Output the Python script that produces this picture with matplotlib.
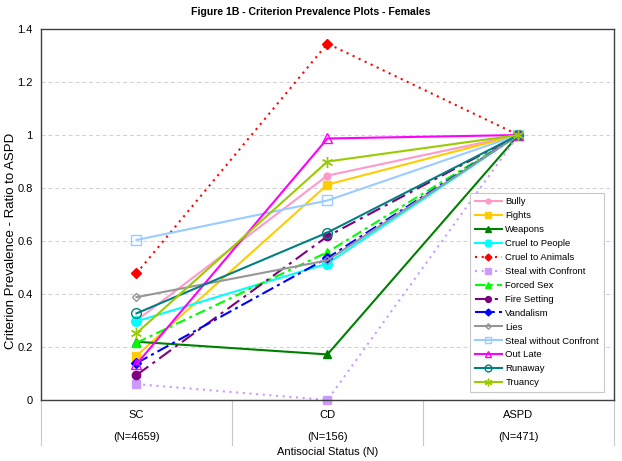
import matplotlib
matplotlib.use("Agg")
import matplotlib.pyplot as plt
import matplotlib.transforms as mtransforms

plt.rcParams['font.family'] = ['Liberation Sans', 'DejaVu Sans']

# data
groups = ["SC", "CD", "ASPD"]
group_n = ["(N=4659)", "(N=156)", "(N=471)"]
criteria = ["Bully", "Fights", "Weapons", "Cruel to People", "Cruel to Animals",
            "Steal with Confront", "Forced Sex", "Fire Setting", "Vandalism", "Lies",
            "Steal without Confront", "Out Late", "Runaway", "Truancy"]
sc_vals = [0.30, 0.167, 0.22, 0.297, 0.478, 0.06, 0.216, 0.094, 0.139, 0.388,
           0.604, 0.135, 0.327, 0.252]
cd_vals = [0.847, 0.813, 0.172, 0.515, 1.345, 0.0, 0.558, 0.618, 0.536, 0.527,
           0.753, 0.987, 0.632, 0.90]
aspd_vals = [1.0] * 14

# style per criterion: colour, marker, marker size, filled, linestyle
styles = [
    ("#FF99CC", "o", 5, True, "-"),
    ("#FFCC00", "s", 6, True, "-"),
    ("#008000", "^", 6, True, "-"),
    ("#00FFFF", "o", 7, True, "-"),
    ("#FF0000", "D", 5, True, (0, (1, 2.2))),
    ("#CC99FF", "s", 6, True, (0, (1, 2.2))),
    ("#00FF00", "^", 6, True, (0, (5, 2, 1.5, 2))),
    ("#800080", "o", 6, True, (0, (7, 2.5, 1.5, 2.5))),
    ("#0000FF", "D", 5, True, (0, (6, 2, 1.5, 2))),
    ("#969696", "D", 4, False, "-"),
    ("#99CCFF", "s", 7, False, "-"),
    ("#FF00FF", "^", 7, False, "-"),
    ("#008080", "o", 7, False, "-"),
    ("#99CC00", (6, 2, 0), 8, False, "-"),
]

fig = plt.figure(figsize=(6.22, 4.61), dpi=100)
ax = fig.add_axes([0.0659, 0.1323, 0.9211, 0.8047])

xpos = [0.5, 1.5, 2.5]
for i, name in enumerate(criteria):
    col, mk, ms, filled, ls = styles[i]
    yv = [sc_vals[i], cd_vals[i], aspd_vals[i]]
    ax.plot(xpos, yv, color=col, linestyle=ls, linewidth=1.5, marker=mk,
            markersize=ms, markerfacecolor=col if filled else "none",
            markeredgecolor=col, markeredgewidth=1.0, label=name, clip_on=False)

ax.set_xlim(0, 3)
ax.set_ylim(0, 1.4)
ax.set_yticks([0, 0.2, 0.4, 0.6, 0.8, 1.0, 1.2, 1.4])
ax.set_yticklabels(["0", "0.2", "0.4", "0.6", "0.8", "1", "1.2", "1.4"], fontsize=8)
ax.set_xticks([])
ax.grid(axis="y", color="#d0d0d0", linestyle=(0, (4, 3)), linewidth=0.7)
ax.set_axisbelow(True)
for sp in ax.spines.values():
    sp.set_color("#404040")
    sp.set_linewidth(1.0)
ax.tick_params(axis="y", length=0, pad=6)

# y title sits a bit below the axes centre, like the original
fig.text(0.018, 0.477, "Criterion Prevalence - Ratio to ASPD", rotation=90,
         ha="center", va="center", fontsize=9.5)

# category table below the axis
trans = mtransforms.blended_transform_factory(ax.transData, ax.transAxes)
for xb in [0, 1, 2, 3]:
    ax.plot([xb, xb], [0, -0.122], color="#c8c8c8", linewidth=0.8,
            transform=trans, clip_on=False)
for i, g in enumerate(groups):
    ax.text(xpos[i], -0.040, g, transform=trans, ha="center", va="center", fontsize=8)
    ax.text(xpos[i], -0.099, group_n[i], transform=trans, ha="center", va="center", fontsize=8)
ax.text(1.5, -0.140, "Antisocial Status (N)", transform=trans, ha="center",
        va="center", fontsize=8)

fig.text(0.5, 0.974, "Figure 1B - Criterion Prevalence Plots - Females",
         ha="center", va="center", fontsize=7.6, fontweight="bold")

leg = ax.legend(loc="lower right", bbox_to_anchor=(0.9825, 0.0216), borderaxespad=0,
                fontsize=6.8, handlelength=2.9, handletextpad=0.35, labelspacing=0.52,
                borderpad=0.5, markerscale=0.7, frameon=True, fancybox=False,
                framealpha=1)
leg.get_frame().set_edgecolor("#c8c8c8")
leg.get_frame().set_linewidth(0.8)

fig.savefig("out.png", dpi=100)
